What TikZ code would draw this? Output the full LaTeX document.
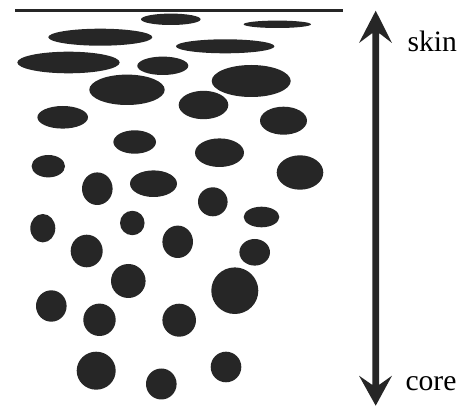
\documentclass[tikz,border=0pt]{standalone}
\usepackage{fontspec}
\setmainfont{Liberation Serif}
\definecolor{ink}{HTML}{262626}
\tikzset{
  blob/.style={fill=ink},
  surfaceline/.style={draw=ink,line width=1.7pt},
  axislabel/.style={font=\fontsize{22.2}{26}\selectfont,text=black,anchor=base west,inner sep=0pt,outer sep=0pt}
}
\begin{document}
\begin{tikzpicture}[x=0.75pt,y=-0.75pt]
\useasboundingbox (0,0) rectangle (465,406);
\fill[white] (0,0) rectangle (465,406);
\coordinate (lineL) at (15,10.5);
\coordinate (lineR) at (343,10.5);
\draw[surfaceline] (lineL) -- (lineR);
\foreach \cx/\cy/\rx/\ry in {
170.8/19.3/29.8/5.7, 277.3/24.3/33.7/3.7, 100.3/37.2/52/8.5, 225.2/46.3/49.2/7,
68.5/62.5/51.2/10.8, 162.8/65.8/25.5/9.2, 251.2/81/39.5/16, 127/89.8/37.7/15.2,
203.5/105/24.8/14.2, 62.7/117.3/25.3/11.3, 283.5/120.7/23.5/14, 134.7/142/21.3/11.7,
219.5/152.7/24.5/14.3, 48.3/166.2/16.7/11.2, 300/172.5/23.3/17.2, 97.3/188.7/15.3/16.3,
153.5/183.7/23.5/13.3, 212.8/201.8/14.8/14.5, 261.5/217/17.8/10.3, 42.8/228.2/12.5/14.2,
132.3/223/12.3/12.2, 177.7/241.8/15.3/16.2, 86.7/251/16/16.3, 254.7/252.3/15.3/13.3,
128.3/281/17.3/17, 234.8/290.7/23.5/23.3, 51.3/306/15.3/15.7, 99.5/319.8/16.2/16.2,
179.2/320.2/16.8/16.5, 96.2/370.7/19.5/19, 161.3/384/15.3/15.5, 226/367/15.3/15.3}
  {\fill[blob] (\cx,\cy) ellipse [x radius=\rx*0.75pt, y radius=\ry*0.75pt];}
% double-headed axis
\fill[ink] (375.7,10.7) -- (392,43) -- (379,33) -- (379,385) -- (392,375.7) -- (375.7,405.7)
  -- (359,375.7) -- (372.4,385) -- (372.4,33) -- (359,43) -- cycle;
\node[axislabel] (skin) at (407.5,51.7) {skin};
\node[axislabel] (core) at (405.5,390.5) {core};
\end{tikzpicture}
\end{document}
